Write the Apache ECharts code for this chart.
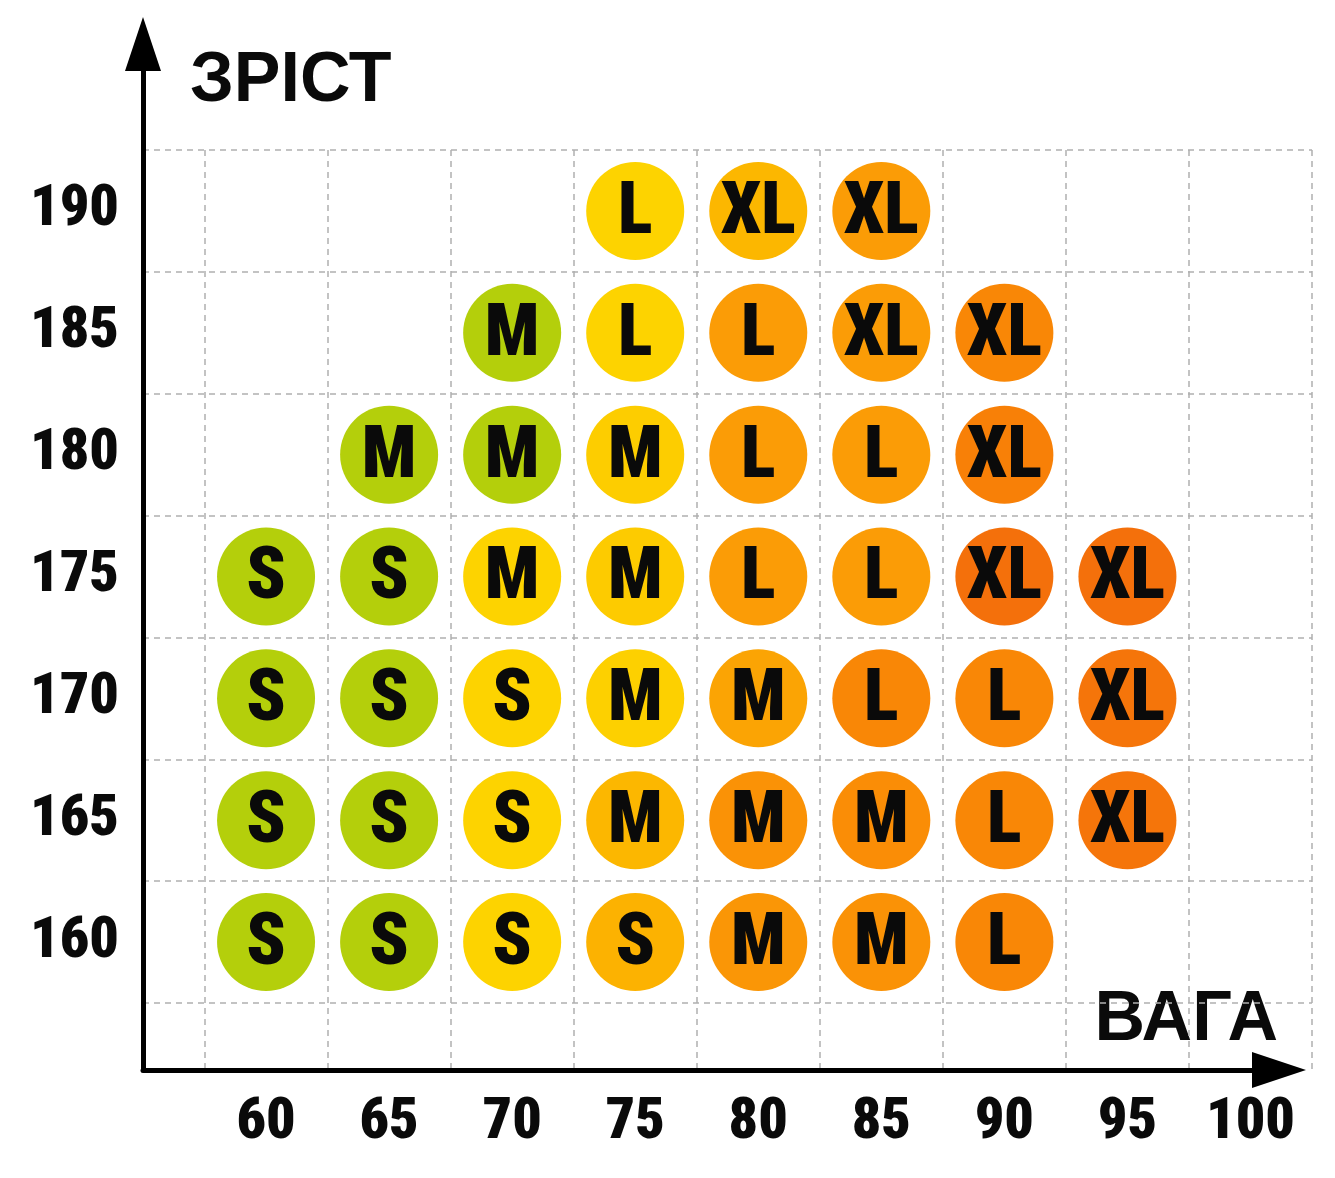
<!DOCTYPE html>
<html>
<head>
    <meta charset="utf-8">
    <title>Розмірна сітка</title>
    <script src="https://cdn.jsdelivr.net/npm/echarts@6/dist/echarts.min.js"></script>
</head>
<body style="margin:0;background:#fff;">
    <div id="main" style="width:1335px;height:1178px;"></div>
    <script type="text/javascript">
        // вага (кг) і зріст (см)
        var weights = [60, 65, 70, 75, 80, 85, 90, 95, 100];
        var heights = [160, 165, 170, 175, 180, 185, 190];

        // розмір для кожної ваги в рядку зросту ('' = немає)
        var size160 = ['S', 'S', 'S', 'S', 'M', 'M', 'L', '', ''];
        var size165 = ['S', 'S', 'S', 'M', 'M', 'M', 'L', 'XL', ''];
        var size170 = ['S', 'S', 'S', 'M', 'M', 'L', 'L', 'XL', ''];
        var size175 = ['S', 'S', 'M', 'M', 'L', 'L', 'XL', 'XL', ''];
        var size180 = ['', 'M', 'M', 'M', 'L', 'L', 'XL', '', ''];
        var size185 = ['', '', 'M', 'L', 'L', 'XL', 'XL', '', ''];
        var size190 = ['', '', '', 'L', 'XL', 'XL', '', '', ''];

        // тон кола (0 зелений ... 5 червоно-помаранчевий)
        var tone160 = [0, 0, 1, 2.2, 3.3, 3.5, 4, null, null];
        var tone165 = [0, 0, 1, 2, 3.5, 3.7, 4, 4.8, null];
        var tone170 = [0, 0, 1, 1.1, 2.7, 4, 4, 4.8, null];
        var tone175 = [0, 0, 1, 1.3, 3, 3, 5, 5, null];
        var tone180 = [null, 0, 0, 1.2, 3, 3, 4.3, null, null];
        var tone185 = [null, null, 0, 1, 3, 3, 4, null, null];
        var tone190 = [null, null, null, 1, 2, 3, null, null, null];

        var sizeRows = [size160, size165, size170, size175, size180, size185, size190];
        var toneRows = [tone160, tone165, tone170, tone175, tone180, tone185, tone190];

        var data = [];
        heights.forEach(function (h, r) {
            weights.forEach(function (w, c) {
                if (sizeRows[r][c]) {
                    data.push([w, h, toneRows[r][c], sizeRows[r][c]]);
                }
            });
        });

        // пунктирна сітка між клітинками
        var gridX = weights.map(function (w) { return w - 2.5; }).concat([102.5]);
        var gridY = heights.map(function (h) { return h - 2.5; }).concat([192.5]);

        var narrow = '"Roboto Condensed", "DejaVu Sans Condensed", sans-serif';
        var numFont = {
            color: '#0a0a0a',
            fontFamily: narrow,
            fontWeight: 900,
            fontSize: 58
        };
        var dashed = { type: [6, 5], color: '#b0b0b0', width: 1.5 };

        var myChart = echarts.init(document.getElementById('main'));
        var option = {
            backgroundColor: '#fff',
            animation: false,
            grid: [
                { left: 143, right: 23, top: 150, bottom: 108 },
                { left: 143, right: 56, top: 44, bottom: 108 }
            ],
            xAxis: [
                {
                    type: 'value', gridIndex: 0, min: 55, max: 102.5,
                    axisLine: { show: false },
                    axisTick: { show: false, customValues: gridX },
                    splitLine: { show: true, lineStyle: dashed },
                    axisLabel: Object.assign({ customValues: weights, margin: 24 }, numFont)
                },
                {
                    type: 'value', gridIndex: 1, min: 0, max: 1,
                    axisLine: {
                        show: true, onZero: false,
                        symbol: ['none', 'triangle'], symbolSize: [36, 54],
                        lineStyle: { color: '#000', width: 5 }
                    },
                    axisTick: { show: false }, axisLabel: { show: false }, splitLine: { show: false }
                }
            ],
            yAxis: [
                {
                    type: 'value', gridIndex: 0, min: 154.75, max: 192.5,
                    axisLine: { show: false },
                    axisTick: { show: false, customValues: gridY },
                    splitLine: { show: true, lineStyle: dashed },
                    axisLabel: Object.assign({ customValues: heights, margin: 24 }, numFont)
                },
                {
                    type: 'value', gridIndex: 1, min: 0, max: 1,
                    axisLine: {
                        show: true, onZero: false,
                        symbol: ['none', 'triangle'], symbolSize: [36, 54],
                        lineStyle: { color: '#000', width: 5 }
                    },
                    axisTick: { show: false }, axisLabel: { show: false }, splitLine: { show: false }
                }
            ],
            visualMap: {
                show: false,
                seriesIndex: 0,
                dimension: 2,
                min: 0,
                max: 5,
                inRange: { color: ['#b4cf0b', '#fdd300', '#fcb700', '#fb9c06', '#f98706', '#f4700b'] }
            },
            graphic: [
                {
                    type: 'text', left: 190, top: 47,
                    style: { text: 'ЗРІСТ', font: 'bold 70px "Liberation Sans"', fill: '#0a0a0a' }
                },
                {
                    type: 'text', right: 57, top: 986,
                    style: { text: 'ВАГА', font: 'bold 70px "Liberation Sans"', fill: '#0a0a0a' }
                }
            ],
            series: [
                {
                    type: 'scatter',
                    xAxisIndex: 0,
                    yAxisIndex: 0,
                    symbol: 'circle',
                    symbolSize: 98,
                    data: data,
                    itemStyle: { opacity: 1 },
                    label: {
                        show: true,
                        position: 'inside',
                        offset: [0, 4],
                        formatter: function (p) { return p.value[3]; },
                        color: '#0a0a0a',
                        opacity: 1,
                        fontFamily: narrow,
                        fontWeight: 900,
                        fontSize: 72
                    },
                    emphasis: { disabled: true }
                }
            ]
        };
        myChart.setOption(option);
    </script>
</body>
</html>
